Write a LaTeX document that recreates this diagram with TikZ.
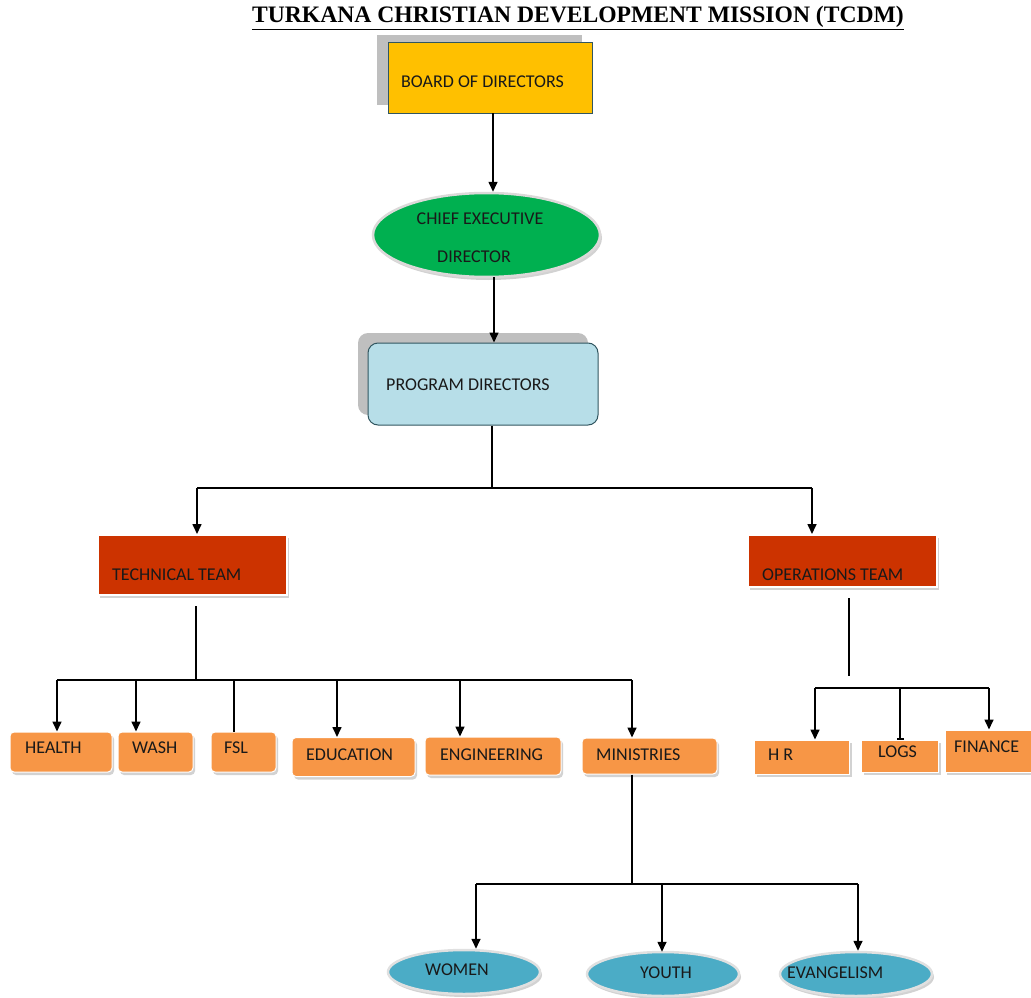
\documentclass[tikz,border=0pt]{standalone}
\usepackage{fontspec}
\setmainfont{Carlito}
\newfontfamily\titlefont{Liberation Serif}
\usetikzlibrary{shapes.geometric,arrows.meta,shadows}
\definecolor{boardgold}{RGB}{255,192,0}
\definecolor{ceogreen}{RGB}{0,176,80}
\definecolor{progblue}{RGB}{183,222,232}
\definecolor{teamred}{RGB}{204,51,0}
\definecolor{unitorange}{RGB}{247,150,70}
\definecolor{minblue}{RGB}{75,172,198}
\definecolor{shadowgray}{RGB}{191,191,191}
\definecolor{edgeteal}{RGB}{49,86,96}
\begin{document}
\begin{tikzpicture}[x=1pt,y=-1pt,
  lbl/.style={font=\fontsize{18}{20}\selectfont, text=black!90, inner sep=0pt},
  arr/.style={line width=1.6pt, -{Triangle[length=10pt,width=9pt]}},
  conn/.style={line width=1.6pt},
  softshadow/.style={drop shadow={shadow xshift=2pt, shadow yshift=-3pt, fill=black!35, opacity=0.5}},
  unit/.style={rectangle, rounded corners=4pt, fill=unitorange, draw=white, line width=1pt, inner sep=0pt, softshadow},
  opsunit/.style={rectangle, fill=unitorange, draw=white, line width=1pt, inner sep=0pt, softshadow},
  team/.style={rectangle, fill=teamred, draw=white, line width=2pt, inner sep=0pt, softshadow, minimum width=189pt},
  ministry/.style={ellipse, fill=minblue, draw=black!12, line width=2.5pt, inner sep=0pt, minimum width=152pt, minimum height=44pt, softshadow},
]
\useasboundingbox (0,0) rectangle (1031,998);

% title
\node[font=\titlefont\bfseries\fontsize{23.6}{26}\selectfont, inner sep=0pt] (title) at (578,18)
  {\underline{TURKANA CHRISTIAN DEVELOPMENT MISSION (TCDM)}};

% board
\fill[shadowgray] (377,35) rectangle (582,105);
\node[rectangle, fill=boardgold, draw=edgeteal, line width=0.8pt, minimum width=204pt, minimum height=71pt, inner sep=0pt] (board) at (490,77.5) {};
\node[lbl, anchor=west] (boardtxt) at (401,82) {BOARD OF DIRECTORS};

% chief executive
\node[ellipse, fill=ceogreen, draw=red!8!black!15, line width=2.5pt, minimum width=227pt, minimum height=84pt, inner sep=0pt, softshadow] (ceo) at (486.5,235) {};
\node[lbl] (ceo1) at (480,219) {CHIEF EXECUTIVE};
\node[lbl] (ceo2) at (474,257) {DIRECTOR};

% program directors
\fill[shadowgray, rounded corners=10pt] (358,333) rectangle (588,415);
\node[rectangle, rounded corners=10pt, fill=progblue, draw=edgeteal, line width=1pt, minimum width=230pt, minimum height=82pt, inner sep=0pt] (prog) at (483,384) {};
\node[lbl, anchor=west] (progtxt) at (386,385) {PROGRAM DIRECTORS};

% teams
\node[team, minimum height=60pt] (tech) at (192.5,565) {};
\node[lbl, anchor=west] (techtxt) at (112,575) {TECHNICAL TEAM};
\node[team, minimum height=52pt] (ops) at (842.5,561) {};
\node[lbl, anchor=west] (opstxt) at (762,575) {OPERATIONS TEAM};

% technical units
\node[unit, minimum width=102pt, minimum height=40pt] (health) at (61,752) {};
\node[lbl, anchor=west] (healthtxt) at (25,748) {HEALTH};
\node[unit, minimum width=75pt, minimum height=40pt] (wash) at (155.5,752) {};
\node[lbl, anchor=west] (washtxt) at (132,748) {WASH};
\node[unit, minimum width=65pt, minimum height=40pt] (fsl) at (243.5,752) {};
\node[lbl, anchor=west] (fsltxt) at (224,748) {FSL};
\node[unit, minimum width=123pt, minimum height=39pt] (edu) at (353.5,757) {};
\node[lbl, anchor=west] (edutxt) at (306,755) {EDUCATION};
\node[unit, minimum width=136pt, minimum height=38pt] (eng) at (493,756) {};
\node[lbl, anchor=west] (engtxt) at (440,755) {ENGINEERING};
\node[unit, minimum width=135pt, minimum height=36pt] (min) at (649.5,756) {};
\node[lbl, anchor=west] (mintxt) at (596,755) {MINISTRIES};

% operations units
\node[opsunit, minimum width=95pt, minimum height=34pt] (hr) at (802,757) {};
\node[lbl, anchor=west] (hrtxt) at (768,755) {H R};
\node[opsunit, minimum width=77pt, minimum height=32pt] (logs) at (900,756) {};
\node[lbl, anchor=west] (logstxt) at (878,752) {LOGS};
\node[opsunit, minimum width=90pt, minimum height=42pt] (fin) at (990,751) {};
\node[lbl, anchor=west] (fintxt) at (954,747) {FINANCE};

% ministries
\node[ministry] (women) at (464,972) {};
\node[lbl, anchor=west] (womentxt) at (425,970) {WOMEN};
\node[ministry] (youth) at (663,974) {};
\node[lbl, anchor=west] (youthtxt) at (640,973) {YOUTH};
\node[ministry] (evan) at (856,974) {};
\node[lbl, anchor=west] (evantxt) at (787,973) {EVANGELISM};

% connectors top
\coordinate (bd) at (493,113);
\draw[arr] (bd) -- (bd |- ceo.north);
\coordinate (cd) at (494,277);
\draw[arr] (cd) -- (cd |- prog.north);

\coordinate (j1) at (492,488);
\coordinate (jt) at (197,488);
\coordinate (jo) at (812,488);
\draw[conn] (prog.south -| j1) -- (j1);
\draw[conn] (jt) -- (jo);
\draw[arr] (jt) -- (jt |- tech.north);
\draw[arr] (jo) -- (jo |- ops.north);

% technical branches
\coordinate (t0) at (196,680);
\draw[conn] ([yshift=-10pt]t0 |- tech.south) -- (t0);
\coordinate (bH) at (57,680);
\coordinate (bW) at (136,680);
\coordinate (bF) at (234,680);
\coordinate (bE) at (337,680);
\coordinate (bG) at (460,680);
\coordinate (bM) at (632,680);
\draw[conn] (bH) -- (bM);
\draw[arr] (bH) -- (bH |- health.north);
\draw[arr] (bW) -- (bW |- wash.north);
\draw[conn] (bF) -- (bF |- fsl.north);
\draw[arr] (bE) -- (bE |- edu.north);
\draw[arr] (bG) -- (bG |- eng.north);
\draw[arr] (bM) -- (bM |- min.north);

% operations branches
\coordinate (o0) at (849,676);
\draw[conn] ([yshift=-10pt]o0 |- ops.south) -- (o0);
\coordinate (oH) at (815,688);
\coordinate (oL) at (900,688);
\coordinate (oF) at (989,688);
\draw[conn] (oH) -- (oF);
\draw[arr] (oH) -- (oH |- hr.north);
\draw[conn, -{Bar[width=7pt]}] (oL) -- (oL |- logs.north);
\draw[arr] (oF) -- (oF |- fin.north);

% ministries branches
\coordinate (m0) at (632,884);
\draw[conn] (m0 |- min.south) -- (m0);
\coordinate (mW) at (476,884);
\coordinate (mY) at (662,884);
\coordinate (mE) at (858,884);
\draw[conn] (mW) -- (mE);
\draw[arr] (mW) -- (mW |- women.north);
\draw[arr] (mY) -- ([yshift=-1pt]mY |- youth.north);
\draw[arr] (mE) -- (mE |- evan.north);
\end{tikzpicture}
\end{document}
